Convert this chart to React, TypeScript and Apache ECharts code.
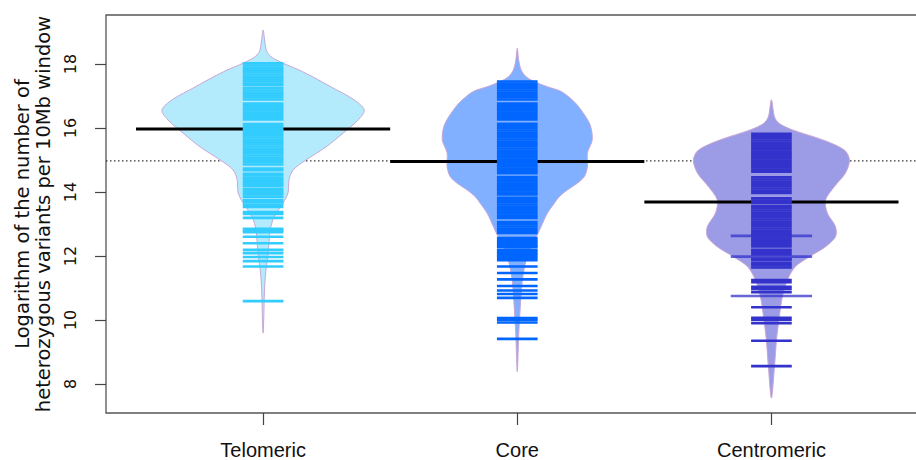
import React, { useEffect, useRef } from "react";
import * as echarts from "echarts";

const categories = ["Telomeric", "Core", "Centromeric"];
const yTicks = [8, 10, 12, 14, 16, 18];
const xTicks = [1, 2, 3];
const beanMeans = [15.97, 14.95, 13.69];
const overallMean = 14.97;

// bean outlines: value and half-width (axis units)
const telomericDensityY = [19.06, 18.75, 18.44, 18.28, 18.13, 17.97, 17.81, 17.59, 17.28, 16.88, 16.56, 16.25, 15.84, 15.41, 15.0, 14.69, 14.38, 13.97, 13.66, 13.22, 12.81, 12.09, 11.47, 10.84, 10.16, 9.59];
const telomericDensityW = [0, 0.006, 0.012, 0.024, 0.051, 0.094, 0.142, 0.197, 0.268, 0.358, 0.398, 0.374, 0.315, 0.248, 0.169, 0.118, 0.102, 0.098, 0.079, 0.043, 0.028, 0.02, 0.01, 0.005, 0.003, 0];
const coreDensityY = [18.49, 18.1, 17.8, 17.6, 17.45, 17.29, 17.14, 16.82, 16.51, 16.09, 15.63, 15.22, 14.79, 14.48, 14.27, 14.06, 13.85, 13.65, 13.33, 12.92, 12.66, 12.29, 11.87, 11.25, 10.42, 9.59, 8.38];
const coreDensityW = [0, 0.006, 0.016, 0.035, 0.067, 0.118, 0.173, 0.224, 0.256, 0.287, 0.295, 0.276, 0.276, 0.264, 0.236, 0.197, 0.165, 0.146, 0.118, 0.094, 0.079, 0.055, 0.035, 0.02, 0.012, 0.006, 0];
const centromericDensityY = [16.88, 16.35, 16.14, 15.94, 15.63, 15.31, 15.0, 14.59, 14.17, 13.75, 13.34, 12.92, 12.6, 12.29, 11.98, 11.67, 11.25, 10.73, 10.1, 9.38, 8.54, 7.56];
const centromericDensityW = [0, 0.012, 0.031, 0.083, 0.201, 0.287, 0.307, 0.291, 0.248, 0.213, 0.22, 0.252, 0.252, 0.213, 0.15, 0.094, 0.063, 0.043, 0.031, 0.02, 0.012, 0];

// observations (bean lines)
const telomericObs = [18.02, 17.95, 17.88, 17.81, 17.74, 17.67, 17.6, 17.53, 17.46, 17.39, 17.34, 17.24, 17.17, 17.1, 17.03, 16.96, 16.89, 16.76, 16.69, 16.62, 16.55, 16.48, 16.41, 16.34, 16.27, 16.12, 16.05, 15.98, 15.91, 15.84, 15.77, 15.7, 15.63, 15.56, 15.49, 15.42, 15.35, 15.28, 15.21, 15.14, 15.07, 15.0, 14.93, 14.86, 14.73, 14.68, 14.57, 14.52, 14.44, 14.38, 14.32, 14.26, 14.2, 14.1, 14.04, 13.98, 13.92, 13.85, 13.75, 13.68, 13.6, 13.53, 13.37, 13.31, 13.19, 12.85, 12.8, 12.74, 12.6, 12.4, 12.19, 12.09, 11.97, 11.84, 11.67, 10.59];
const coreObs = [17.45, 17.38, 17.31, 17.24, 17.17, 17.1, 17.03, 16.96, 16.89, 16.76, 16.69, 16.62, 16.55, 16.48, 16.41, 16.34, 16.27, 16.13, 16.06, 15.99, 15.92, 15.85, 15.78, 15.71, 15.64, 15.57, 15.5, 15.43, 15.36, 15.29, 15.22, 15.15, 15.08, 15.01, 14.94, 14.87, 14.8, 14.73, 14.66, 14.59, 14.47, 14.4, 14.33, 14.26, 14.19, 14.12, 14.05, 13.98, 13.92, 13.82, 13.75, 13.68, 13.61, 13.54, 13.47, 13.4, 13.33, 13.26, 13.19, 13.06, 12.99, 12.92, 12.85, 12.78, 12.72, 12.56, 12.5, 12.44, 12.38, 12.32, 12.28, 12.19, 12.13, 12.07, 12.01, 11.94, 11.87, 11.67, 11.47, 11.27, 11.06, 10.92, 10.81, 10.69, 10.06, 10.01, 9.92, 9.41];
const centromericObs = [15.82, 15.75, 15.68, 15.61, 15.54, 15.47, 15.4, 15.33, 15.26, 15.19, 15.12, 15.05, 14.98, 14.91, 14.84, 14.77, 14.7, 14.63, 14.46, 14.39, 14.32, 14.25, 14.18, 14.11, 14.04, 13.97, 13.8, 13.73, 13.66, 13.56, 13.49, 13.42, 13.35, 13.28, 13.21, 13.14, 13.07, 13.0, 12.93, 12.86, 12.79, 12.72, 12.65, 12.58, 12.51, 12.44, 12.37, 12.3, 12.19, 12.12, 12.05, 11.91, 11.87, 11.78, 11.71, 11.64, 11.25, 11.18, 11.04, 10.97, 10.87, 10.4, 10.07, 10.0, 9.9, 9.35, 8.56];
const centromericRepeated = [12.63, 11.98, 10.75];

const beanFill = ["#b3ebfc", "#80b0ff", "#9c9ce6"];
const lineColor = ["#33ccff", "#0066ff", "#3333cc"];

export default function App() {
  const ref = useRef<HTMLDivElement>(null);
  useEffect(() => {
    if (!ref.current) return;
    const chart = echarts.init(ref.current, null, { renderer: "svg" });
    const densY = [telomericDensityY, coreDensityY, centromericDensityY];
    const densW = [telomericDensityW, coreDensityW, centromericDensityW];
    const obs = [telomericObs, coreObs, centromericObs];
    const lineData: number[][] = [];
    obs.forEach((arr, gi) => arr.forEach((v) => lineData.push([gi + 1, v, 1])));
    centromericRepeated.forEach((v) => lineData.push([3, v, 2]));

    chart.setOption({
      animation: false,
      grid: { left: 106, top: 15, right: 0, bottom: 47, show: true, borderColor: "#555", borderWidth: 1.3, backgroundColor: "transparent" },
      xAxis: {
        type: "value", min: 0.3819, max: 3.62,
        axisLine: { show: false }, splitLine: { show: false },
        axisTick: { customValues: xTicks, length: 12, lineStyle: { color: "#444", width: 1.2 } },
        axisLabel: {
          customValues: xTicks,
          formatter: (v: number) => categories[Math.round(v) - 1] ?? "",
          fontFamily: "Liberation Sans", fontSize: 20, color: "#111", margin: 27,
        },
      },
      yAxis: {
        type: "value", min: 7.094, max: 19.53,
        axisLine: { show: false }, splitLine: { show: false },
        axisTick: { customValues: yTicks, length: 11, lineStyle: { color: "#444", width: 1.2 } },
        axisLabel: { customValues: yTicks, rotate: 90, fontFamily: "DejaVu Sans", fontSize: 16, color: "#111", margin: 28 },
        name: "Logarithm of the number of\nheterozygous variants per 10Mb window",
        nameLocation: "middle", nameRotate: 90, nameGap: 50,
        nameTextStyle: { fontFamily: "DejaVu Sans", fontSize: 19.5, lineHeight: 21, color: "#111" },
      },
      series: [
        {
          type: "line", z: 1, silent: true, symbol: "none",
          data: [[0.3819, overallMean], [3.62, overallMean]],
          lineStyle: { color: "#333", width: 1.2, type: [1.5, 2.5] },
        },
        {
          type: "custom", z: 2, silent: true,
          data: categories.map((_, i) => [i + 1, beanMeans[i]]),
          renderItem: (params: any, api: any) => {
            const gi = params.dataIndex;
            const g = gi + 1;
            const ys = densY[gi], ws = densW[gi];
            const pts: number[][] = [];
            for (let k = 0; k < ys.length; k++) pts.push(api.coord([g - ws[k], ys[k]]));
            for (let k = ys.length - 2; k > 0; k--) pts.push(api.coord([g + ws[k], ys[k]]));
            return {
              type: "polygon",
              shape: { points: pts, smooth: 0.3 },
              style: { fill: beanFill[gi], stroke: "#c9a6d6", lineWidth: 1 },
            };
          },
        },
        {
          type: "custom", z: 3, silent: true,
          data: categories.map((_, i) => [i + 1, beanMeans[i]]),
          renderItem: (params: any, api: any) => {
            const g = api.value(0), v = api.value(1);
            const p1 = api.coord([g - 0.5, v]);
            const p2 = api.coord([g + 0.5, v]);
            return { type: "line", shape: { x1: p1[0], y1: p1[1], x2: p2[0], y2: p2[1] }, style: { stroke: "#000", lineWidth: 3 } };
          },
        },
        {
          type: "custom", z: 4, silent: true,
          data: lineData,
          renderItem: (params: any, api: any) => {
            const g = api.value(0), v = api.value(1), m = api.value(2);
            const p1 = api.coord([g - 0.08 * m, v]);
            const p2 = api.coord([g + 0.08 * m, v]);
            return { type: "line", shape: { x1: p1[0], y1: p1[1], x2: p2[0], y2: p2[1] }, style: { stroke: lineColor[Math.round(g) - 1], lineWidth: 2.6, opacity: m > 1 ? 0.75 : 1 } };
          },
        },
      ],
    });
    return () => chart.dispose();
  }, []);
  return (
    <div style={{ position: "fixed", left: 0, top: 0, width: 916, height: 460, overflow: "hidden", background: "#fff" }}>
      <div ref={ref} style={{ width: 929, height: 460 }} />
    </div>
  );
}
